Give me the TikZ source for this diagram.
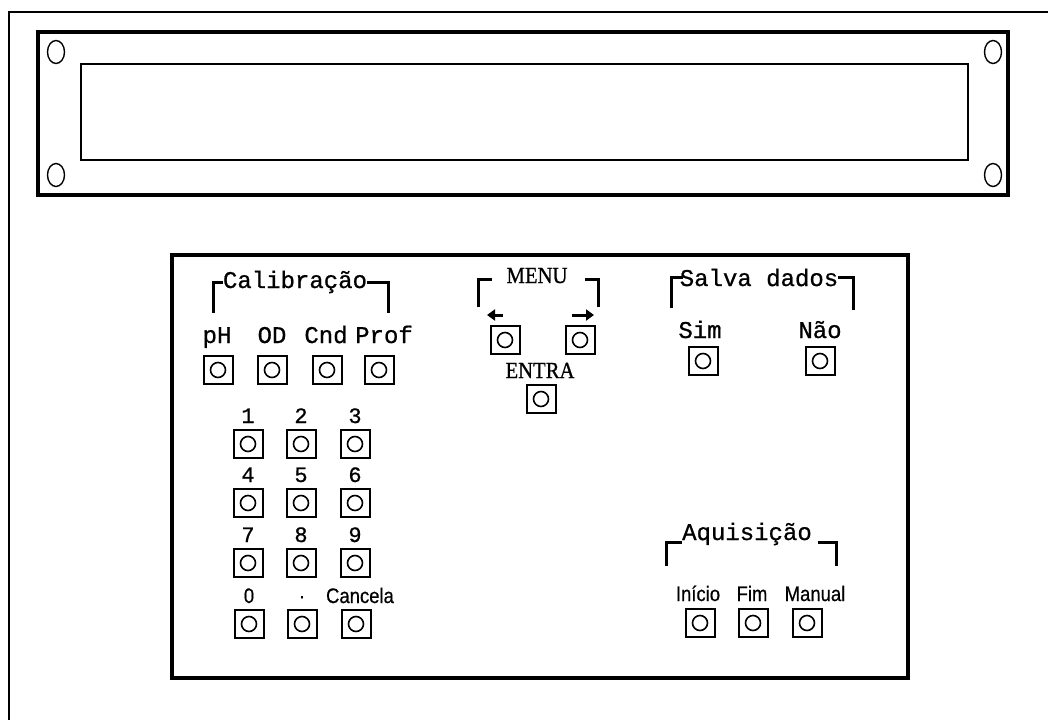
\documentclass[tikz,border=0pt]{standalone}
\usepackage{fontspec}
\newfontfamily\monof[FakeBold=0.8]{Liberation Mono}
\newfontfamily\seriff[FakeBold=0.8]{Liberation Serif}
\newfontfamily\sansf[FakeBold=0.6]{Liberation Sans}
\usetikzlibrary{arrows.meta,shapes.geometric}
\begin{document}
\begin{tikzpicture}[x=1pt,y=-1pt,
  btn/.style={draw, line width=2pt, minimum width=29pt, minimum height=28pt, inner sep=0pt,
    path picture={\draw[line width=1.6pt] (path picture bounding box.center) circle (7.5pt);}},
  mlab/.style={font=\monof\fontsize{24}{26}\selectfont, anchor=base, inner sep=0pt},
  dlab/.style={font=\monof\fontsize{22}{24}\selectfont, anchor=base, inner sep=0pt},
  slab/.style={font=\sansf\fontsize{21}{23}\selectfont, anchor=base, inner sep=0pt, xscale=0.88},
  rlab/.style={font=\seriff\fontsize{23}{25}\selectfont, anchor=base, inner sep=0pt, xscale=0.9},
  brk/.style={line width=3pt},
  hole/.style={draw, ellipse, line width=1.4pt, minimum width=17pt, minimum height=23pt, inner sep=0pt}
]
\useasboundingbox (0,0) rectangle (1048,720);
% outer frame
\draw[line width=1.4pt] (9,720) -- (9,12) -- (1048,12);
% display
\draw[line width=3.2pt] (38,32) rectangle (1008,195);
\draw[line width=1.6pt] (81,64) rectangle (968,160);
\node[hole] (h1) at (56,52) {};
\node[hole] (h2) at (993,52) {};
\node[hole] (h3) at (56,175) {};
\node[hole] (h4) at (993,175) {};
% panel
\draw[line width=3.6pt] (172,255) rectangle (908,678);

% Calibracao
\node[mlab] (tcal) at (295,288) {Calibração};
\draw[brk] (213,313) -- (213,282) -- (223,282);
\draw[brk] (367,282) -- (388,282) -- (388,313);
\node[mlab] (tph) at (217,343) {pH};
\node[mlab] (tod) at (272,343) {OD};
\node[mlab] (tcnd) at (326,343) {Cnd};
\node[mlab] (tprof) at (384,343) {Prof};
\node[btn] (bph) at (218,370) {};
\node[btn] (bod) at (272,370) {};
\node[btn] (bcnd) at (327,370) {};
\node[btn] (bprof) at (379,370) {};

% keypad
\foreach \lab/\nm/\x/\y in {1/k1/248/444, 2/k2/301/444, 3/k3/355/444,
                            4/k4/248/503, 5/k5/301/503, 6/k6/355/503,
                            7/k7/248/563, 8/k8/301/563, 9/k9/355/563}{
  \node[dlab] (t\nm) at (\x,\y-21) {\lab};
  \node[btn] (\nm) at (\x,\y) {};
}
\node[slab] (tk0) at (249,603) {0};
\node[slab] (tkdot) at (302,603) {·};
\node[slab] (tkcan) at (360,603) {Cancela};
\node[btn] (k0) at (249,624) {};
\node[btn] (kdot) at (302,624) {};
\node[btn] (kcan) at (356,624) {};

% MENU
\node[rlab] (tmenu) at (537,283) {MENU};
\draw[brk] (478,307) -- (478,279) -- (492,279);
\draw[brk] (585,279) -- (598,279) -- (598,307);
\draw[line width=3pt, -{Triangle[length=8pt,width=11pt]}] (503,315) -- (487,315);
\draw[line width=3pt, -{Triangle[length=8pt,width=11pt]}] (572,315) -- (594,315);
\node[btn] (bleft) at (505,340) {};
\node[btn] (bright) at (580,340) {};
\node[rlab] (tentra) at (540,378) {ENTRA};
\node[btn] (bentra) at (541,399) {};

% Salva dados
\node[mlab] (tsalva) at (759,286) {Salva dados};
\draw[brk] (671,308) -- (671,277) -- (683,277);
\draw[brk] (838,277) -- (853,277) -- (853,310);
\node[mlab] (tsim) at (700,338) {Sim};
\node[mlab] (tnao) at (820,338) {Não};
\node[btn] (bsim) at (703,361) {};
\node[btn] (bnao) at (820,361) {};

% Aquisicao
\node[mlab] (taq) at (747,540) {Aquisição};
\draw[brk] (666,566) -- (666,542) -- (682,542);
\draw[brk] (818,542) -- (836,542) -- (836,566);
\node[slab] (tini) at (698,601) {Início};
\node[slab] (tfim) at (752,601) {Fim};
\node[slab] (tman) at (815,601) {Manual};
\node[btn] (bini) at (700,623) {};
\node[btn] (bfim) at (753,623) {};
\node[btn] (bman) at (807,623) {};
\end{tikzpicture}
\end{document}
